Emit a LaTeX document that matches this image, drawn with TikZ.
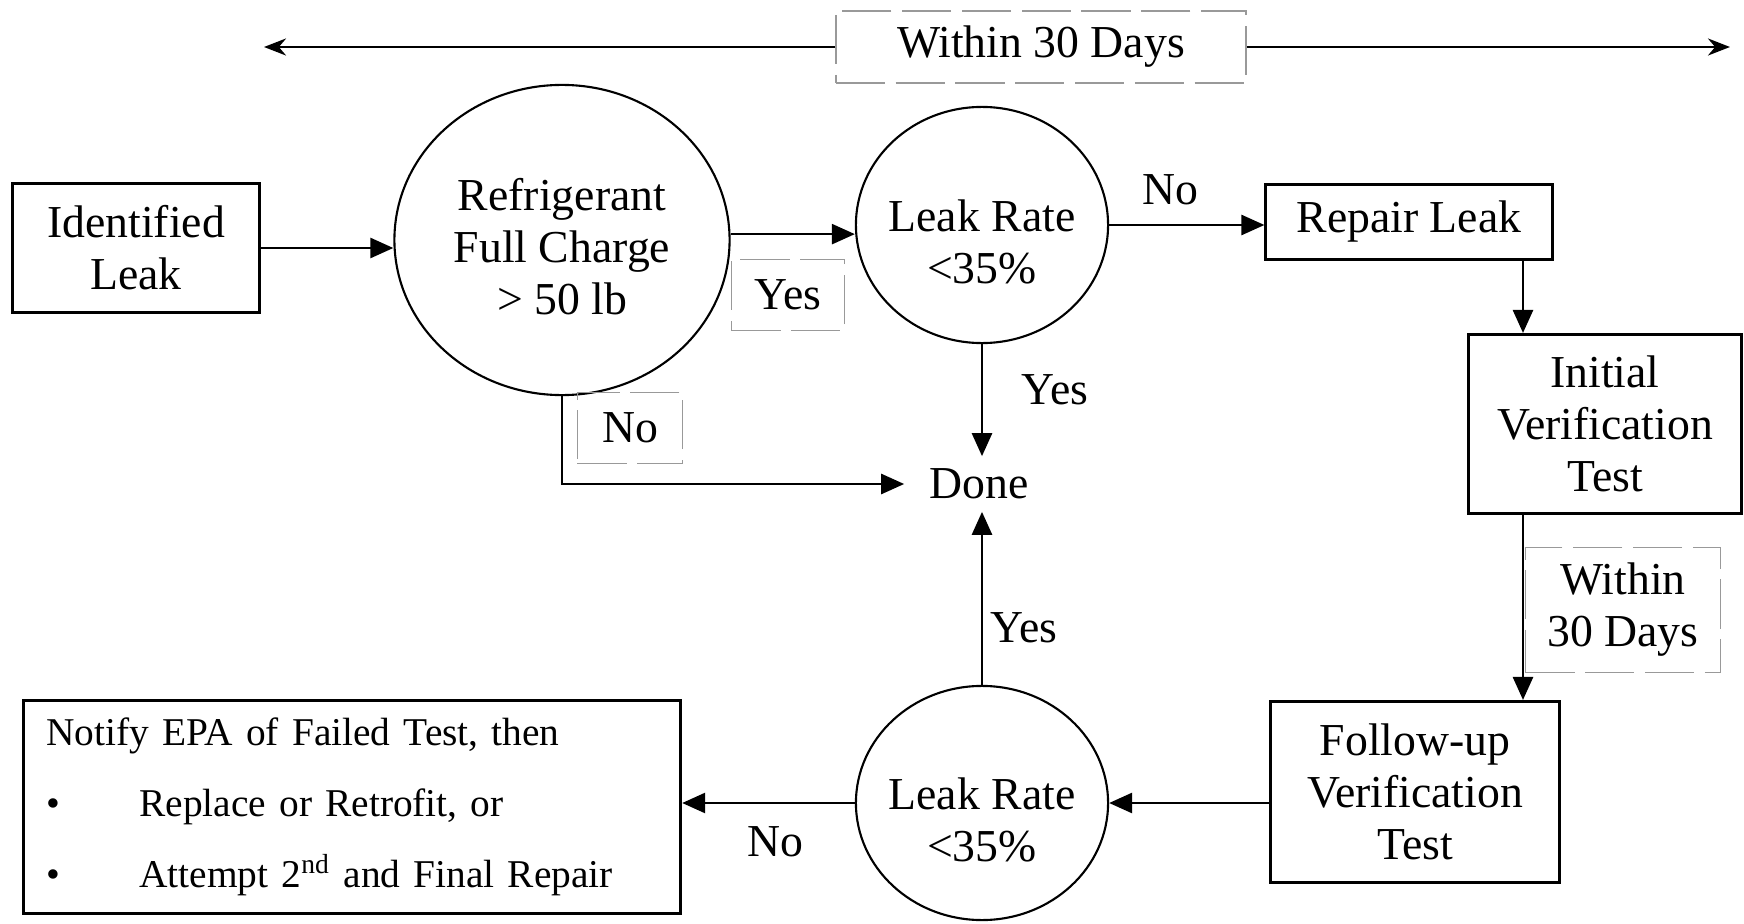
\documentclass[tikz,border=0pt]{standalone}
\usepackage{fontspec}
\setmainfont{Liberation Serif}
\usetikzlibrary{arrows.meta,positioning,shapes.geometric}

\begin{document}
\begin{tikzpicture}[x=0.01cm,y=-0.01cm,>={Triangle[length=0.23cm,width=0.2cm]},
  font=\fontsize{13}{14.8}\selectfont,
  box/.style={draw,line width=0.85pt,align=center,inner sep=0pt},
  dec/.style={draw,ellipse,line width=0.6pt,align=center,inner sep=-2pt},
  tag/.style={draw=black!40,line width=0.4pt,dash pattern=on 14pt off 3pt,align=center,inner sep=0pt},
  flow/.style={->,line width=0.75pt}]
\fill[white] (0,0) rectangle (1744,924);
\useasboundingbox (0,0) rectangle (1744,924);

\node[tag,minimum width=4.1cm,minimum height=0.72cm] (days) at (1041,47) {Within 30 Days};
\coordinate (tl) at (264,47);
\coordinate (tr) at (1730,47);
\draw[line width=0.75pt,-{Stealth[length=0.22cm,width=0.17cm]}] (days.west) -- (tl);
\draw[line width=0.75pt,-{Stealth[length=0.22cm,width=0.17cm]}] (days.east) -- (tr);

\node[box,minimum width=2.46cm,minimum height=1.28cm] (leak) at (136,248) {Identified\\Leak};
\node[dec,minimum width=3.35cm,minimum height=3.1cm] (charge) at (562,240) {\rule{0pt}{13pt}Refrigerant\\Full Charge\\> 50 lb};
\node[dec,minimum width=2.52cm,minimum height=2.36cm] (rate1) at (982,225) {\rule{0pt}{18.5pt}Leak Rate\\<35\%};
\node[box,minimum width=2.86cm,minimum height=0.74cm] (repair) at (1409,222) {Repair Leak};
\node[box,minimum width=2.73cm,minimum height=1.79cm] (initial) at (1605,424) {Initial\\Verification\\Test};
\node[box,minimum width=2.88cm,minimum height=1.81cm] (followup) at (1415,792) {Follow-up\\Verification\\Test};
\node[dec,minimum width=2.52cm,minimum height=2.34cm] (rate2) at (982,803) {\rule{0pt}{18.5pt}Leak Rate\\<35\%};
\node[inner xsep=7pt,inner ysep=3.4pt] (done) at (979,484) {Done};
\node[box,minimum height=2.13cm,align=left,inner xsep=0.23cm,text width=6.11cm,
  font=\fontsize{11.2}{20.2}\selectfont] (epa) at (352,807)
  {Notify EPA of Failed Test, then\\
   \makebox[0.93cm][l]{\textbullet}Replace or Retrofit, or\\
   \makebox[0.93cm][l]{\textbullet}Attempt 2\textsuperscript{nd} and Final Repair};

\node[tag,minimum width=1.13cm,minimum height=0.71cm] (yes1) at (788,295) {Yes};
\node[tag,minimum width=1.05cm,minimum height=0.71cm] (no1) at (630,428) {No};
\node[tag,minimum width=1.95cm,minimum height=1.25cm] (days2) at (1623,610) {Within\\30 Days};
\node (no2) at (1170,190) {No};
\node (yes2) at (1055,390) {Yes};
\node (yes3) at (1024,628) {Yes};
\node (no3) at (775,842) {No};

\coordinate (col) at (1523,0);
\draw[flow] (leak.east) -- (leak.east -| charge.west);
\draw[flow] (charge.2) -- (charge.2 -| rate1.west);
\draw[flow] (rate1.east) -- (rate1.east -| repair.west);
\draw[flow] (repair.south -| col) -- (initial.north -| col);
\draw[flow] (initial.south -| col) -- (followup.north -| col);
\draw[flow] (followup.west |- rate2.east) -- (rate2.east);
\draw[flow] (rate2.west) -- (rate2.west -| epa.east);
\draw[flow] (rate2.north) -- (rate2.north |- done.south);
\draw[flow] (rate1.south) -- (rate1.south |- done.north);
\draw[flow] (charge.south) -- (charge.south |- done.west) -- (done.west);
\end{tikzpicture}
\end{document}
